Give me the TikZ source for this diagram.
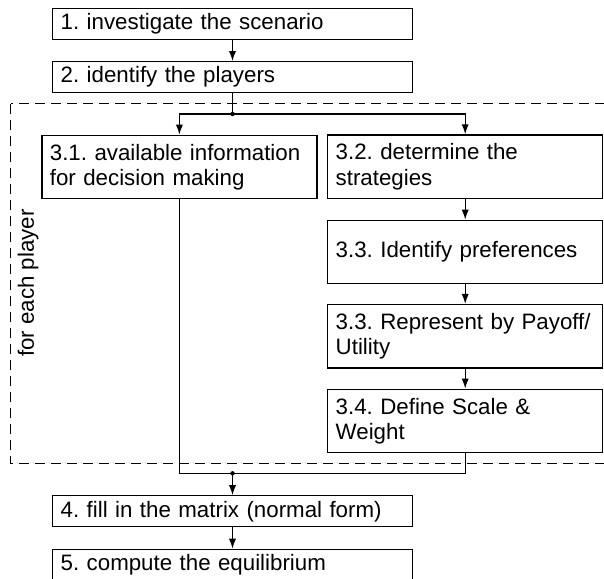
\documentclass[tikz,border=0pt]{standalone}
\usepackage{fontspec}
\setmainfont{Liberation Sans}
\usetikzlibrary{arrows.meta}
\frenchspacing
\begin{document}
\begin{tikzpicture}[x=0.5pt,y=-0.5pt,line width=0.65pt,
    font=\fontsize{11.15}{12.6}\selectfont,
    wide/.style={draw,text width=171.8pt,minimum height=15.5pt,inner xsep=4pt,inner ysep=1pt,align=left},
    tall/.style={draw,text width=129.5pt,minimum height=31.75pt,inner xsep=4pt,inner ysep=1pt,align=left}]
  \clip (0,0) rectangle (604,578);
  \draw[dash pattern=on 5pt off 3pt] (10.7,103.5) rectangle (620,463.3);
  \draw
    (232.5,24.2) node[wide] (1){1. investigate the scenario}
    (232.5,77.2) node[wide] (2){2. identify the players}
    (179.4,167) node[tall] (31){3.1. available information\\for decision making}
    (465.2,166.7) node[tall] (32){3.2. determine the\\strategies}
    (465.2,252) node[tall] (33){3.3. Identify preferences}
    (465.2,336.3) node[tall] (33u){3.3. Represent by Payoff/\\Utility}
    (465.2,421) node[tall] (34){3.4. Define Scale \&\\Weight}
    (232.5,511.3) node[wide] (4){4. fill in the matrix (normal form)}
    (232.5,564.8) node[wide] (5){5. compute the equilibrium}
    (28,283) node[rotate=90] (p){for each player};
  \coordinate (s) at (232.5,114);
  \coordinate (m) at (232.5,473.3);
  \fill (s) circle (1.1pt) (m) circle (1.1pt);
  \draw (2) to (s);
  \draw (31) |- (m);
  \draw (34) |- (m);
  \begin{scope}[-{Latex[length=5pt,width=3.6pt]}]
    \draw (1) to (2);
    \draw (s) -| (31);
    \draw (s) -| (32);
    \draw (32) to (33);
    \draw (33) to (33u);
    \draw (33u) to (34);
    \draw (m) to (4);
    \draw (4) to (5);
  \end{scope}
\end{tikzpicture}
\end{document}
